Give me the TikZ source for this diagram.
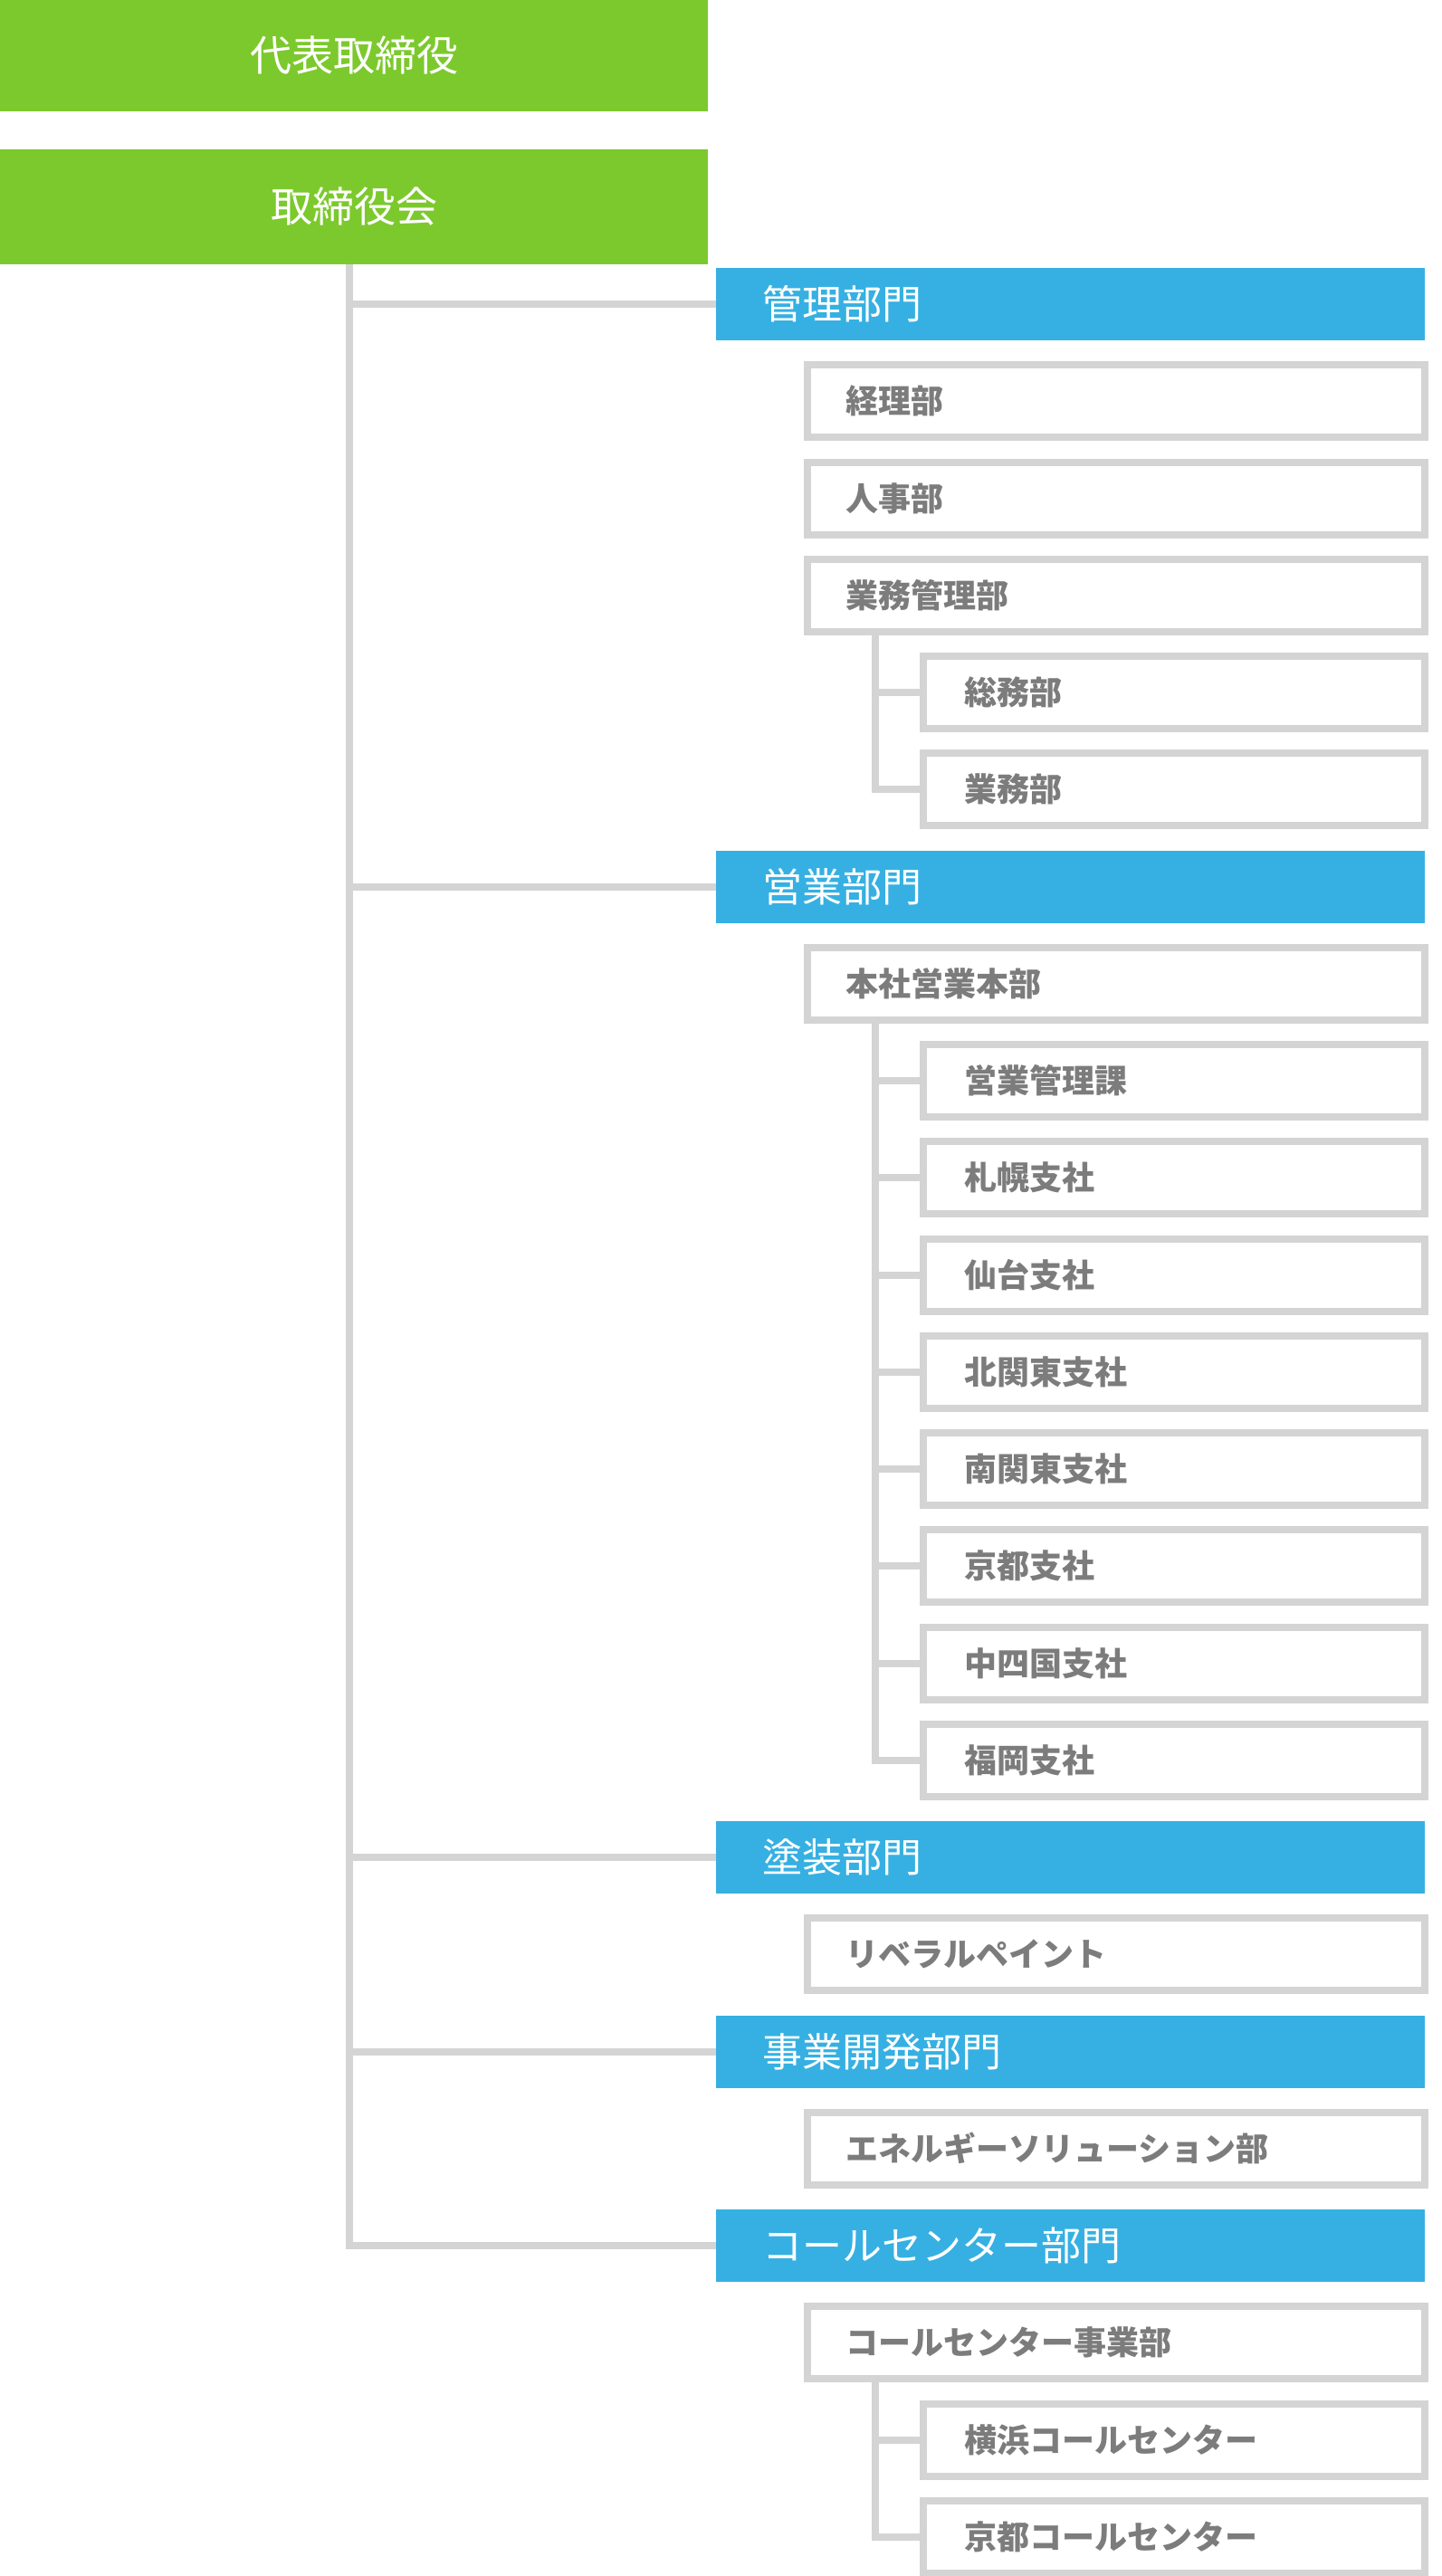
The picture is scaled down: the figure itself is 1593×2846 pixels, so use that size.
\documentclass[tikz,border=0pt]{standalone}
\usepackage{fontspec}
\newfontfamily\jp{Noto Sans CJK JP}
\definecolor{cgreen}{RGB}{124,201,45}
\definecolor{cblue}{RGB}{54,176,226}
\definecolor{cgray}{RGB}{212,212,212}
\definecolor{ctext}{RGB}{124,124,124}
\tikzset{
  greenbox/.style={fill=cgreen, draw=none, text=white, font=\jp\fontsize{46}{50}\selectfont, minimum width=782, inner sep=0},
  bluebox/.style={fill=cblue, draw=none, text=white, font=\jp\fontsize{44}{48}\selectfont, minimum height=80, text width=681, inner xsep=51, inner ysep=0, align=left},
  graytwo/.style={draw=cgray, line width=8, fill=white, text=ctext, font=\jp\bfseries\fontsize{36}{40}\selectfont, minimum height=80, text width=598, inner xsep=42, inner ysep=0, align=left},
  graythree/.style={draw=cgray, line width=8, fill=white, text=ctext, font=\jp\bfseries\fontsize{36}{40}\selectfont, minimum height=80, text width=464, inner xsep=45, inner ysep=0, align=left},
  conn/.style={draw=cgray, line width=8}
}
\begin{document}
\begin{tikzpicture}[x=1pt,y=-1pt]
\useasboundingbox (0,0) rectangle (1593,2846);
\def\rowy#1{336+107.25*#1}
% top boxes
\node[greenbox, minimum height=123] (ceo) at (391,61.5) {代表取締役};
\node[greenbox, minimum height=127] (board) at (391,228.5) {取締役会};
% divisions and departments
\node[bluebox] (kanri) at (1182.5,{\rowy{0}}) {管理部門};
\node[graytwo] (keiri) at (1233,{\rowy{1}}) {経理部};
\node[graytwo] (jinji) at (1233,{\rowy{2}}) {人事部};
\node[graytwo] (gk) at (1233,{\rowy{3}}) {業務管理部};
\node[graythree] (somu) at (1297,{\rowy{4}}) {総務部};
\node[graythree] (gyomu) at (1297,{\rowy{5}}) {業務部};
\node[bluebox] (eigyo) at (1182.5,{\rowy{6}}) {営業部門};
\node[graytwo] (honsha) at (1233,{\rowy{7}}) {本社営業本部};
\node[graythree] (ekanri) at (1297,{\rowy{8}}) {営業管理課};
\node[graythree] (sapporo) at (1297,{\rowy{9}}) {札幌支社};
\node[graythree] (sendai) at (1297,{\rowy{10}}) {仙台支社};
\node[graythree] (kitakanto) at (1297,{\rowy{11}}) {北関東支社};
\node[graythree] (minamikanto) at (1297,{\rowy{12}}) {南関東支社};
\node[graythree] (kyoto) at (1297,{\rowy{13}}) {京都支社};
\node[graythree] (chushikoku) at (1297,{\rowy{14}}) {中四国支社};
\node[graythree] (fukuoka) at (1297,{\rowy{15}}) {福岡支社};
\node[bluebox] (toso) at (1182.5,{\rowy{16}}) {塗装部門};
\node[graytwo] (liberal) at (1233,{\rowy{17}}) {リベラルペイント};
\node[bluebox] (jigyo) at (1182.5,{\rowy{18}}) {事業開発部門};
\node[graytwo] (energy) at (1233,{\rowy{19}}) {エネルギーソリューション部};
\node[bluebox] (cc) at (1182.5,{\rowy{20}}) {コールセンター部門};
\node[graytwo] (ccjigyo) at (1233,{\rowy{21}}) {コールセンター事業部};
\node[graythree] (yokohama) at (1297,{\rowy{22}}) {横浜コールセンター};
\node[graythree] (kyotocc) at (1297,{\rowy{23}}) {京都コールセンター};
% main trunk
\coordinate (trunk) at ([xshift=-5]board.south);
\draw[conn] (trunk) |- (cc.west);
\draw[conn] (trunk |- kanri.west) -- (kanri.west);
\draw[conn] (trunk |- eigyo.west) -- (eigyo.west);
\draw[conn] (trunk |- toso.west) -- (toso.west);
\draw[conn] (trunk |- jigyo.west) -- (jigyo.west);
% sub trunks
\coordinate (gkt) at ([xshift=79]gk.south west);
\draw[conn] (gkt) |- (gyomu.west);
\draw[conn] (gkt |- somu.west) -- (somu.west);
\coordinate (hst) at ([xshift=79]honsha.south west);
\draw[conn] (hst) |- (fukuoka.west);
\foreach \n in {ekanri,sapporo,sendai,kitakanto,minamikanto,kyoto,chushikoku}
  \draw[conn] (hst |- \n.west) -- (\n.west);
\coordinate (cct) at ([xshift=79]ccjigyo.south west);
\draw[conn] (cct) |- (kyotocc.west);
\draw[conn] (cct |- yokohama.west) -- (yokohama.west);
\end{tikzpicture}
\end{document}
